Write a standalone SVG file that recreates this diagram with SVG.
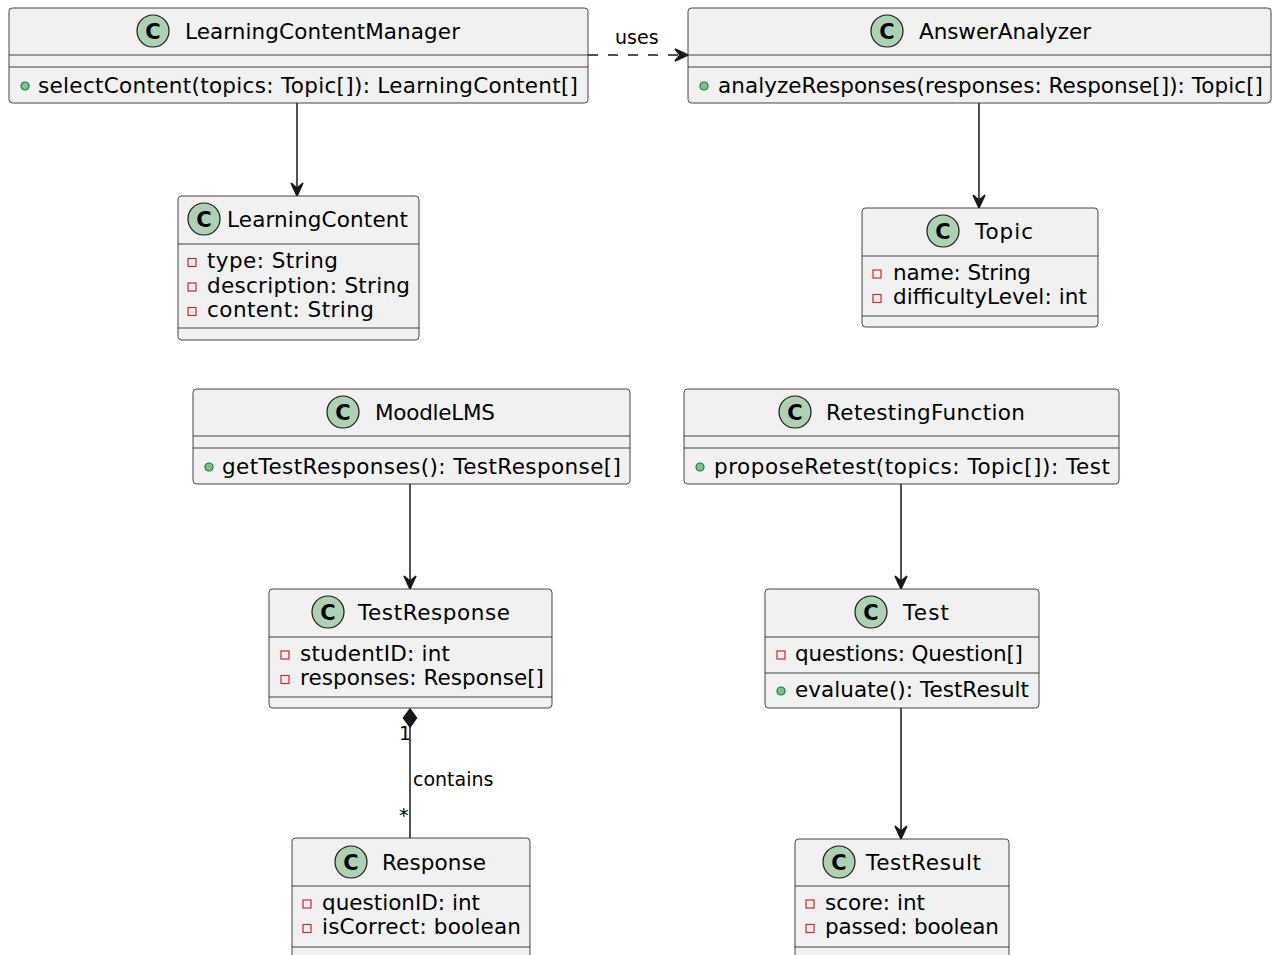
<svg xmlns="http://www.w3.org/2000/svg" width="1278" height="955" viewBox="0 0 1278 955">
<defs>
<style>
.box{fill:#F1F1F1;stroke:#181818;stroke-width:0.8}
.sep{stroke:#181818;stroke-width:0.8}
.ci{fill:#ADD1B2;stroke:#181818;stroke-width:1.2}
.cl{font-family:"DejaVu Sans",sans-serif;font-size:21px;font-weight:bold;fill:#000;text-anchor:middle}
.t{font-family:"DejaVu Sans",sans-serif;font-size:21.5px;fill:#000}
.lb{font-family:"DejaVu Sans",sans-serif;font-size:19px;fill:#000}
.pub{fill:#84BE84;stroke:#038048;stroke-width:1.2}
.pri{fill:none;stroke:#C82930;stroke-width:1.2}
.ln{stroke:#181818;stroke-width:1.5;fill:none}
.ah{fill:#181818;stroke:#181818;stroke-width:1.5}
</style>
</defs>
<g id="connectors">
<line class="ln" x1="588" y1="55" x2="686" y2="55" stroke-dasharray="10,10"/>
<polygon class="ah" points="688,55 675,49 680,55 675,61"/>
<text class="lb" x="615" y="44">uses</text>
<line class="ln" x1="297" y1="103" x2="297" y2="194"/>
<polygon class="ah" points="297,196 291,183 297,188 303,183"/>
<line class="ln" x1="979" y1="103" x2="979" y2="206"/>
<polygon class="ah" points="979,208 973,195 979,200 985,195"/>
<line class="ln" x1="410" y1="484" x2="410" y2="587"/>
<polygon class="ah" points="410,589 404,576 410,581 416,576"/>
<line class="ln" x1="901" y1="484" x2="901" y2="587"/>
<polygon class="ah" points="901,589 895,576 901,581 907,576"/>
<line class="ln" x1="901" y1="708" x2="901" y2="837"/>
<polygon class="ah" points="901,839 895,826 901,831 907,826"/>
<line class="ln" x1="410" y1="727" x2="410" y2="838"/>
<polygon class="ah" points="410,709 416.5,718 410,727 403.5,718"/>
<text class="lb" x="399" y="740">1</text>
<text class="lb" x="413" y="786">contains</text>
<text class="lb" x="399" y="822">*</text>
</g>
<g id="LearningContentManager">
<rect class="box" x="9" y="8" width="579" height="95" rx="3.5"/>
<line class="sep" x1="9" y1="55" x2="588" y2="55"/>
<line class="sep" x1="9" y1="67" x2="588" y2="67"/>
<circle class="ci" cx="153" cy="31" r="16"/>
<text class="cl" x="153" y="38.5">C</text>
<text class="t" x="185" y="39" textLength="275">LearningContentManager</text>
<circle class="pub" cx="25" cy="86" r="4"/>
<text class="t" x="38" y="93" textLength="540">selectContent(topics: Topic[]): LearningContent[]</text>
</g>
<g id="AnswerAnalyzer">
<rect class="box" x="688" y="8" width="583" height="95" rx="3.5"/>
<line class="sep" x1="688" y1="55" x2="1271" y2="55"/>
<line class="sep" x1="688" y1="67" x2="1271" y2="67"/>
<circle class="ci" cx="887" cy="31" r="16"/>
<text class="cl" x="887" y="38.5">C</text>
<text class="t" x="919" y="39" textLength="172">AnswerAnalyzer</text>
<circle class="pub" cx="704" cy="86" r="4"/>
<text class="t" x="718" y="93" textLength="545">analyzeResponses(responses: Response[]): Topic[]</text>
</g>
<g id="LearningContent">
<rect class="box" x="178" y="196" width="241" height="144" rx="3.5"/>
<line class="sep" x1="178" y1="244" x2="419" y2="244"/>
<line class="sep" x1="178" y1="328" x2="419" y2="328"/>
<circle class="ci" cx="204" cy="219" r="16"/>
<text class="cl" x="204" y="226.5">C</text>
<text class="t" x="227" y="227" textLength="181">LearningContent</text>
<rect class="pri" x="188" y="258.5" width="8" height="8"/>
<text class="t" x="207" y="268" textLength="131">type: String</text>
<rect class="pri" x="188" y="283" width="8" height="8"/>
<text class="t" x="207" y="293" textLength="203">description: String</text>
<rect class="pri" x="188" y="307.5" width="8" height="8"/>
<text class="t" x="207" y="317" textLength="167">content: String</text>
</g>
<g id="Topic">
<rect class="box" x="862" y="208" width="236" height="119" rx="3.5"/>
<line class="sep" x1="862" y1="256" x2="1098" y2="256"/>
<line class="sep" x1="862" y1="316" x2="1098" y2="316"/>
<circle class="ci" cx="943" cy="231" r="16"/>
<text class="cl" x="943" y="238.5">C</text>
<text class="t" x="975" y="239" textLength="58">Topic</text>
<rect class="pri" x="873" y="270" width="8" height="8"/>
<text class="t" x="893" y="280" textLength="138">name: String</text>
<rect class="pri" x="873" y="294.5" width="8" height="8"/>
<text class="t" x="893" y="304" textLength="194">difficultyLevel: int</text>
</g>
<g id="MoodleLMS">
<rect class="box" x="193" y="389" width="437" height="95" rx="3.5"/>
<line class="sep" x1="193" y1="436" x2="630" y2="436"/>
<line class="sep" x1="193" y1="448" x2="630" y2="448"/>
<circle class="ci" cx="343" cy="412" r="16"/>
<text class="cl" x="343" y="419.5">C</text>
<text class="t" x="375" y="420" textLength="120">MoodleLMS</text>
<circle class="pub" cx="209" cy="467" r="4"/>
<text class="t" x="222" y="474" textLength="399">getTestResponses(): TestResponse[]</text>
</g>
<g id="RetestingFunction">
<rect class="box" x="684" y="389" width="435" height="95" rx="3.5"/>
<line class="sep" x1="684" y1="436" x2="1119" y2="436"/>
<line class="sep" x1="684" y1="448" x2="1119" y2="448"/>
<circle class="ci" cx="795" cy="412" r="16"/>
<text class="cl" x="795" y="419.5">C</text>
<text class="t" x="826" y="420" textLength="199">RetestingFunction</text>
<circle class="pub" cx="700" cy="467" r="4"/>
<text class="t" x="714" y="474" textLength="396">proposeRetest(topics: Topic[]): Test</text>
</g>
<g id="TestResponse">
<rect class="box" x="269" y="589" width="283" height="119" rx="3.5"/>
<line class="sep" x1="269" y1="637" x2="552" y2="637"/>
<line class="sep" x1="269" y1="697" x2="552" y2="697"/>
<circle class="ci" cx="328" cy="612" r="16"/>
<text class="cl" x="328" y="619.5">C</text>
<text class="t" x="358" y="620" textLength="152">TestResponse</text>
<rect class="pri" x="281" y="651" width="8" height="8"/>
<text class="t" x="300" y="661" textLength="150">studentID: int</text>
<rect class="pri" x="281" y="675.5" width="8" height="8"/>
<text class="t" x="300" y="685" textLength="244">responses: Response[]</text>
</g>
<g id="Test">
<rect class="box" x="765" y="589" width="274" height="119" rx="3.5"/>
<line class="sep" x1="765" y1="637" x2="1039" y2="637"/>
<line class="sep" x1="765" y1="673" x2="1039" y2="673"/>
<circle class="ci" cx="871" cy="612" r="16"/>
<text class="cl" x="871" y="619.5">C</text>
<text class="t" x="903" y="620" textLength="46">Test</text>
<rect class="pri" x="777" y="651" width="8" height="8"/>
<text class="t" x="795" y="661" textLength="228">questions: Question[]</text>
<circle class="pub" cx="781" cy="691" r="4"/>
<text class="t" x="795" y="697" textLength="234">evaluate(): TestResult</text>
</g>
<g id="Response">
<rect class="box" x="292" y="838" width="238" height="130" rx="3.5"/>
<line class="sep" x1="292" y1="886" x2="530" y2="886"/>
<line class="sep" x1="292" y1="947" x2="530" y2="947"/>
<circle class="ci" cx="351" cy="862" r="16"/>
<text class="cl" x="351" y="869.5">C</text>
<text class="t" x="382" y="870" textLength="104">Response</text>
<rect class="pri" x="303" y="900" width="8" height="8"/>
<text class="t" x="322" y="910" textLength="158">questionID: int</text>
<rect class="pri" x="303" y="924.5" width="8" height="8"/>
<text class="t" x="322" y="934" textLength="199">isCorrect: boolean</text>
</g>
<g id="TestResult">
<rect class="box" x="795" y="839" width="214" height="130" rx="3.5"/>
<line class="sep" x1="795" y1="886" x2="1009" y2="886"/>
<line class="sep" x1="795" y1="947" x2="1009" y2="947"/>
<circle class="ci" cx="839" cy="862" r="16"/>
<text class="cl" x="839" y="869.5">C</text>
<text class="t" x="866" y="870" textLength="115">TestResult</text>
<rect class="pri" x="806" y="900" width="8" height="8"/>
<text class="t" x="825" y="910" textLength="100">score: int</text>
<rect class="pri" x="806" y="924.5" width="8" height="8"/>
<text class="t" x="825" y="934" textLength="174">passed: boolean</text>
</g>
</svg>
